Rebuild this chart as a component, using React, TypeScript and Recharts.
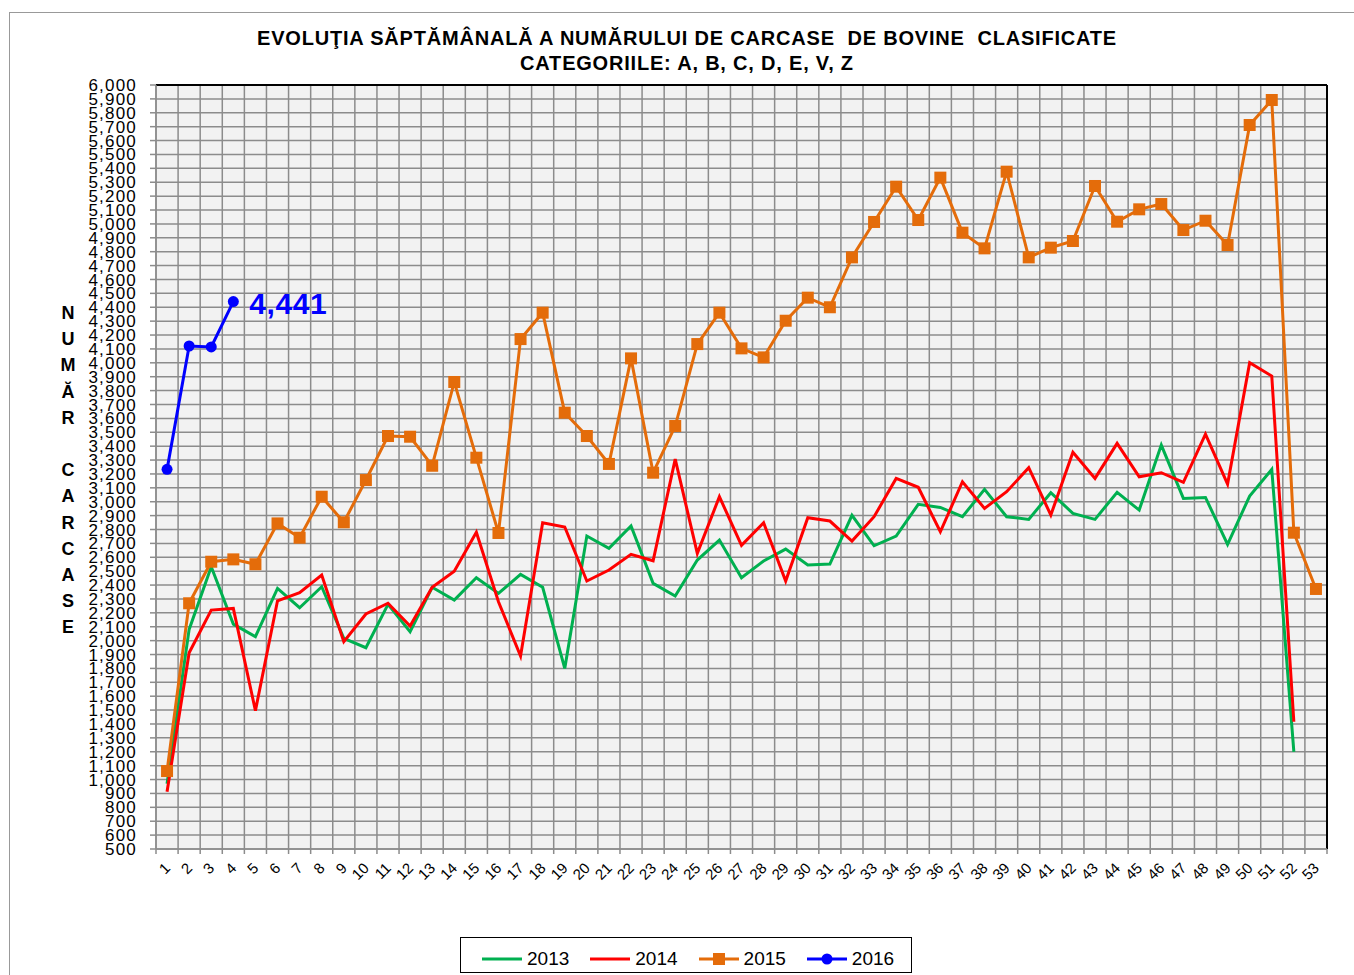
import React from 'react';
import { LineChart, Line, XAxis, YAxis, CartesianGrid, ReferenceLine, LabelList } from 'recharts';

const weeks = [1, 2, 3, 4, 5, 6, 7, 8, 9, 10, 11, 12, 13, 14, 15, 16, 17, 18, 19, 20, 21, 22, 23, 24, 25, 26, 27, 28, 29, 30, 31, 32, 33, 34, 35, 36, 37, 38, 39, 40, 41, 42, 43, 44, 45, 46, 47, 48, 49, 50, 51, 52, 53];

const s2013 = [970, 2081, 2532, 2119, 2028, 2376, 2237, 2388, 2016, 1949, 2261, 2064, 2384, 2292, 2453, 2340, 2477, 2384, 1800, 2753, 2664, 2825, 2412, 2321, 2580, 2724, 2453, 2573, 2659, 2544, 2551, 2902, 2683, 2753, 2981, 2959, 2892, 3089, 2892, 2873, 3065, 2916, 2873, 3068, 2940, 3408, 3024, 3031, 2693, 3041, 3233, 1200];
const s2014 = [912, 1913, 2220, 2232, 1496, 2287, 2345, 2472, 1992, 2192, 2269, 2105, 2384, 2500, 2780, 2280, 1889, 2849, 2818, 2429, 2508, 2621, 2575, 3307, 2628, 3036, 2686, 2849, 2429, 2885, 2861, 2717, 2892, 3168, 3104, 2784, 3144, 2952, 3072, 3245, 2904, 3356, 3168, 3420, 3180, 3209, 3140, 3487, 3127, 4001, 3905, 1416];
const s2015 = [1061, 2269, 2568, 2585, 2550, 2844, 2741, 3036, 2852, 3156, 3473, 3468, 3259, 3862, 3317, 2775, 4171, 4361, 3641, 3473, 3272, 4032, 3209, 3545, 4135, 4361, 4104, 4039, 4303, 4469, 4400, 4759, 5014, 5268, 5028, 5333, 4937, 4824, 5376, 4759, 4829, 4877, 5273, 5016, 5105, 5143, 4956, 5023, 4848, 5712, 5892, 2777, 2372];
const s2016 = [3233, 4121, 4114, 4441];

const seriesNames = ['2013', '2014', '2015', '2016'];
const seriesColors = ['#00b050', '#ff0000', '#e46c0a', '#0000ff'];

const yMin = 500;
const yMax = 6000;
const yStep = 100;
const yTicks = Array.from({ length: (yMax - yMin) / yStep + 1 }, (_, i) => yMin + i * yStep);
const gridTicks = [...weeks.map((w) => w - 0.5), weeks[weeks.length - 1] + 0.5];

const titleLines = ['EVOLUŢIA SĂPTĂMÂNALĂ A NUMĂRULUI DE CARCASE  DE BOVINE  CLASIFICATE', 'CATEGORIILE: A, B, C, D, E, V, Z'];
const yTitle = 'NUMĂR CARCASE';

const data = weeks.map((w, i) => ({
  week: w,
  y2013: s2013[i] ?? null,
  y2014: s2014[i] ?? null,
  y2015: s2015[i] ?? null,
  y2016: s2016[i] ?? null,
}));

const FONT = '"Liberation Sans", Arial, Helvetica, sans-serif';
const fmt = (v: number) => v.toLocaleString('en-US');

const SquareDot = (props: any) => {
  const { cx, cy } = props;
  if (cx == null || cy == null || props.value == null) return <g />;
  return <rect x={cx - 6} y={cy - 6} width={12} height={12} fill={seriesColors[2]} />;
};

const CircleDot = (props: any) => {
  const { cx, cy } = props;
  if (cx == null || cy == null || props.value == null) return <g />;
  return <circle cx={cx} cy={cy} r={5.5} fill={seriesColors[3]} />;
};

const XTick = (props: any) => {
  const { x, y, payload } = props;
  const ax = x + 4;
  const ay = y + 12;
  return (
    <text x={ax} y={ay} textAnchor="end" fontSize={15} fill="#000" fontFamily={FONT} transform={`rotate(-45, ${ax}, ${ay})`}>
      {payload.value}
    </text>
  );
};

const EmptyTick = () => <g />;

const LastLabel = (props: any) => {
  const { x, y, value, index } = props;
  if (index !== s2016.length - 1) return <g />;
  return (
    <text x={x + 16} y={y + 12} fontSize={30} fontWeight="bold" fill={seriesColors[3]} fontFamily={FONT} letterSpacing={0.6}>
      {fmt(value)}
    </text>
  );
};

const LegendIcon = ({ i }: { i: number }) => (
  <svg width={42} height={14} style={{ display: 'block' }}>
    <line x1={1} y1={7} x2={41} y2={7} stroke={seriesColors[i]} strokeWidth={3} />
    {i === 2 && <rect x={15} y={1} width={12} height={12} fill={seriesColors[2]} />}
    {i === 3 && <circle cx={21} cy={7} r={5.5} fill={seriesColors[3]} />}
  </svg>
);

export default function App() {
  return (
    <div style={{ position: 'absolute', left: 0, top: 0, width: 1354, height: 975, background: '#fff', fontFamily: FONT, overflow: 'hidden' }}>
      <div style={{ position: 'absolute', left: 9, top: 12, width: 1400, height: 1000, border: '1.5px solid #999', boxSizing: 'border-box' }} />
      <div style={{ position: 'absolute', left: 87, top: 26, width: 1200, textAlign: 'center', fontWeight: 'bold', fontSize: 20, letterSpacing: 0.8, lineHeight: '25px', color: '#000', whiteSpace: 'pre' }}>
        {titleLines.map((t) => (
          <div key={t}>{t}</div>
        ))}
      </div>
      {yTitle.split('').map((ch, i) => (
        <div key={i} style={{ position: 'absolute', left: 53, top: 301 + i * 26.2, width: 30, textAlign: 'center', fontWeight: 'bold', fontSize: 18, lineHeight: '24px', color: '#000' }}>
          {ch === ' ' ? '' : ch}
        </div>
      ))}
      <div style={{ position: 'absolute', left: 0, top: 0 }}>
        <LineChart width={1354} height={975} data={data} margin={{ top: 85, right: 27, bottom: 80, left: 86 }}>
          <CartesianGrid xAxisId="grid" stroke="#8c8c8c" strokeWidth={1.5} fill="#f2f2f2" fillOpacity={1} />
          <XAxis
            xAxisId="grid"
            dataKey="week"
            type="number"
            domain={[gridTicks[0], gridTicks[gridTicks.length - 1]]}
            ticks={gridTicks}
            interval={0}
            allowDataOverflow
            height={6}
            tickSize={5}
            tick={EmptyTick}
            tickLine={{ stroke: '#8c8c8c', strokeWidth: 1.5 }}
            axisLine={{ stroke: '#8c8c8c', strokeWidth: 1.5 }}
          />
          <XAxis
            xAxisId="main"
            dataKey="week"
            type="number"
            domain={[gridTicks[0], gridTicks[gridTicks.length - 1]]}
            ticks={weeks}
            interval={0}
            allowDataOverflow
            height={40}
            tickSize={0}
            tickLine={false}
            axisLine={false}
            tick={XTick}
          />
          <YAxis
            domain={[yMin, yMax]}
            ticks={yTicks}
            interval={0}
            allowDataOverflow
            width={70}
            tickSize={6}
            tickMargin={13}
            tickFormatter={fmt}
            tick={{ fontSize: 17, fill: '#000', fontFamily: FONT, letterSpacing: 1.2 }}
            tickLine={{ stroke: '#8c8c8c', strokeWidth: 1.5 }}
            axisLine={{ stroke: '#8c8c8c', strokeWidth: 1.5 }}
          />
          <ReferenceLine y={yMax} xAxisId="grid" stroke="#000" strokeWidth={2} />
          <ReferenceLine x={gridTicks[gridTicks.length - 1]} xAxisId="grid" stroke="#000" strokeWidth={2} />
          <Line xAxisId="main" type="linear" dataKey="y2013" name={seriesNames[0]} stroke={seriesColors[0]} strokeWidth={3} dot={false} activeDot={false} isAnimationActive={false} />
          <Line xAxisId="main" type="linear" dataKey="y2014" name={seriesNames[1]} stroke={seriesColors[1]} strokeWidth={3} dot={false} activeDot={false} isAnimationActive={false} />
          <Line xAxisId="main" type="linear" dataKey="y2015" name={seriesNames[2]} stroke={seriesColors[2]} strokeWidth={3} dot={<SquareDot />} activeDot={false} isAnimationActive={false} />
          <Line xAxisId="main" type="linear" dataKey="y2016" name={seriesNames[3]} stroke={seriesColors[3]} strokeWidth={3} dot={<CircleDot />} activeDot={false} isAnimationActive={false}>
            <LabelList dataKey="y2016" content={<LastLabel />} />
          </Line>
        </LineChart>
      </div>
      <div style={{ position: 'absolute', left: 460, top: 937, width: 452, height: 36, border: '1.5px solid #000', boxSizing: 'border-box', display: 'flex', alignItems: 'center', paddingLeft: 20, gap: 20 }}>
        {seriesNames.map((n, i) => (
          <div key={n} style={{ display: 'flex', alignItems: 'center', gap: 4, fontSize: 19, color: '#000', lineHeight: '20px', paddingTop: 8 }}>
            <LegendIcon i={i} />
            <span>{n}</span>
          </div>
        ))}
      </div>
    </div>
  );
}
